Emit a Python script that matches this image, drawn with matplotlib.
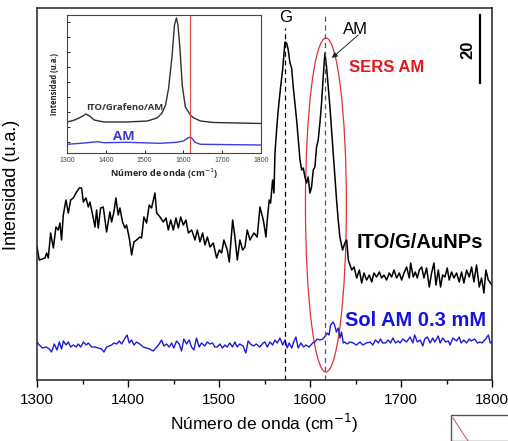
import matplotlib as mpl
mpl.use('Agg')
import matplotlib.pyplot as plt
from matplotlib.patches import Ellipse, Rectangle
from matplotlib.lines import Line2D
from matplotlib.ticker import MultipleLocator
import numpy as np

mpl.rcParams['font.family'] = ['Liberation Sans', 'DejaVu Sans']

# ITO/G/AuNPs (SERS)
wn_sers = [1300, 1302.5, 1308.8, 1310.6, 1312.4, 1315, 1318, 1320.8, 1323.4, 1325.2,
           1327, 1328.9, 1331.8, 1334.4, 1337, 1339.9, 1343.5, 1346.5, 1349, 1350.9,
           1353.8, 1356.4, 1358.2, 1361.8, 1363.7, 1365.5, 1367.3, 1369.9, 1372.8, 1376.5,
           1380.1, 1382, 1384.5, 1386.7, 1389.3, 1391.1, 1394, 1396.6, 1398.4, 1401.4,
           1404, 1406.5, 1409.4, 1413, 1414.9, 1417.5, 1420.4, 1423.3, 1425.9, 1429.6,
           1431.5, 1435.2, 1438.8, 1441.8, 1444.3, 1446.9, 1449.8, 1452.7, 1455.3, 1457.9,
           1460.8, 1463.7, 1466.3, 1470, 1473.6, 1476.2, 1479.1, 1482, 1484.6, 1487.2,
           1490.1, 1493.7, 1497.4, 1500.3, 1502.9, 1505.4, 1509.1, 1511.3, 1515, 1517.5,
           1520.1, 1523, 1526, 1528.5, 1531, 1534, 1535.8, 1538.4, 1542, 1545,
           1548.7, 1551.6, 1553, 1555.2, 1556.7, 1558.9, 1560.4, 1561.5, 1563.3, 1565.1,
           1567.7, 1569.9, 1572.5, 1574.3, 1576.1, 1578, 1579.8, 1581.6, 1583.4, 1585.3,
           1587.1, 1589, 1590.8, 1592.6, 1594.4, 1596.2, 1598, 1599.9, 1601.7, 1603.6,
           1605.4, 1607.2, 1609, 1610.9, 1612.7, 1614.5, 1616.4, 1618.2, 1620, 1621.9,
           1623.7, 1625.5, 1627.4, 1629.2, 1631, 1632.8, 1635.8, 1638.3, 1640.3, 1642.1,
           1645.8, 1648.4, 1651.3, 1654.2, 1656.8, 1659.3, 1662.3, 1665.2, 1667.8, 1670.3,
           1673.2, 1676.2, 1678.7, 1681.3, 1684.2, 1687.1, 1689.7, 1692.3, 1695.2, 1698.1,
           1700.7, 1703.3, 1706.2, 1709.1, 1710.6, 1713.5, 1715.7, 1717.9, 1720.1, 1722.7,
           1725.2, 1728.1, 1731.1, 1733.6, 1736.2, 1738.4, 1741, 1743.5, 1745.7, 1748.3,
           1750.8, 1753, 1755.6, 1758.2, 1761.1, 1764, 1766.6, 1769.1, 1772.1, 1775,
           1777.6, 1780.1, 1783, 1786, 1788.5, 1791.1, 1793.3, 1795.9, 1800]
int_sers = [133, 120, 122, 127, 122, 147, 132, 153, 150, 157,
            140, 165, 180, 167, 180, 182, 188, 192, 192, 178,
            182, 173, 178, 162, 153, 170, 152, 172, 173, 148,
            168, 158, 168, 182, 165, 172, 158, 152, 155, 142,
            125, 138, 140, 143, 142, 163, 157, 175, 172, 187,
            167, 163, 158, 162, 150, 160, 150, 162, 152, 163,
            155, 160, 147, 150, 140, 150, 138, 147, 135, 143,
            133, 137, 122, 130, 127, 140, 130, 118, 160, 143,
            120, 140, 130, 133, 150, 140, 143, 147, 143, 173,
            160, 143, 160, 180, 177, 200, 187, 227, 250, 270,
            293, 310, 338, 337, 330, 317, 312, 293, 277, 260,
            240, 220, 210, 212, 203, 197, 203, 187, 193, 210,
            213, 233, 240, 257, 277, 303, 327, 313, 293, 273,
            250, 227, 203, 180, 160, 143, 130, 137, 140, 120,
            110, 113, 102, 110, 97, 107, 100, 105, 98, 107,
            103, 108, 102, 105, 100, 107, 103, 110, 102, 107,
            100, 107, 113, 102, 117, 103, 108, 102, 110, 113,
            102, 112, 93, 107, 117, 95, 110, 93, 105, 103,
            112, 100, 108, 102, 107, 98, 108, 97, 110, 103,
            113, 98, 115, 93, 102, 87, 110, 100, 95]

# Sol AM 0.3 mM
wn_sol = [1300, 1302.5, 1306, 1310, 1313.5, 1316, 1319, 1322, 1324.5, 1327,
          1329, 1332, 1334.4, 1337, 1340, 1343, 1345.4, 1348, 1351, 1354,
          1356.4, 1360, 1363.7, 1367.3, 1371, 1373.6, 1376.5, 1379.4, 1382, 1384.5,
          1387.5, 1390.4, 1393, 1395.5, 1399, 1401.4, 1404, 1406.5, 1409.4, 1413,
          1416.7, 1420.4, 1424, 1427.7, 1431.4, 1434.3, 1436.9, 1439.4, 1442.4, 1445.3,
          1447.9, 1450.4, 1453.3, 1456.3, 1458.8, 1461.4, 1464.3, 1467.3, 1469.8, 1472.4,
          1475.3, 1478.2, 1480.8, 1484.5, 1487, 1490, 1492.9, 1495.4, 1498, 1501,
          1503.8, 1506.4, 1509, 1511.9, 1514.8, 1517.4, 1520, 1522.9, 1526.5, 1529.5,
          1532, 1534.6, 1538, 1541, 1544.8, 1548.5, 1550.5, 1553, 1556, 1559,
          1561.5, 1564, 1567, 1570, 1572.5, 1575, 1577, 1580, 1582, 1584.5,
          1587, 1590, 1593, 1595.5, 1599, 1603, 1605, 1608, 1611, 1614,
          1616, 1619, 1621, 1622.6, 1625.5, 1627, 1629, 1631, 1633, 1634.7,
          1636.5, 1638, 1641, 1644, 1647.5, 1651, 1655, 1658, 1662, 1666,
          1669, 1672, 1675, 1677.5, 1680, 1683, 1686, 1688.5, 1691, 1694,
          1697, 1699, 1702, 1706, 1710, 1713, 1715, 1718, 1721, 1724,
          1726, 1729, 1732, 1735, 1737, 1741, 1743, 1746, 1749, 1752,
          1754, 1757, 1761, 1764, 1766, 1769, 1772, 1775, 1777, 1781,
          1784, 1787, 1789, 1793, 1796, 1798, 1800]
int_sol = [38, 35, 32, 33, 31, 28, 36, 30, 38, 31,
           39, 35, 38, 33, 35, 33, 36, 33, 38, 35,
           37, 33, 33, 32, 31, 28, 33, 34, 35, 37,
           36, 39, 36, 40, 45, 37, 40, 35, 38, 36,
           33, 32, 31, 29, 33, 36, 40, 34, 36, 33,
           37, 32, 39, 36, 29, 41, 36, 40, 33, 30,
           42, 33, 37, 34, 38, 36, 37, 33, 33, 36,
           32, 35, 33, 37, 33, 38, 33, 36, 34, 27,
           39, 36, 34, 36, 33, 37, 38, 33, 38, 35,
           40, 37, 42, 35, 40, 32, 37, 32, 38, 43,
           32, 37, 33, 35, 33, 37, 38, 41, 40, 41,
           43, 47, 45, 55, 58, 55, 48, 52, 42, 48,
           37, 38, 36, 38, 37, 35, 38, 35, 37, 38,
           35, 40, 37, 41, 37, 37, 40, 37, 42, 37,
           39, 37, 41, 38, 43, 37, 45, 38, 40, 34,
           41, 43, 37, 42, 38, 44, 37, 42, 38, 39,
           35, 42, 39, 43, 37, 40, 37, 41, 39, 41,
           37, 38, 37, 41, 45, 37, 38]

# inset: ITO/Grafeno/AM and AM
wn_graf = [1300, 1320, 1336, 1349, 1358, 1370, 1395, 1454, 1507, 1532,
           1545, 1554, 1562, 1571, 1577, 1582, 1586, 1591, 1597, 1605,
           1618, 1627, 1644, 1678, 1800]
int_graf = [31, 33, 36, 39, 37, 33, 31, 31, 32, 35,
            40, 48, 65, 98, 128, 135, 128, 105, 68, 46,
            38, 35, 32, 30.5, 29.5]
wn_am = [1300, 1336, 1379, 1395, 1454, 1540, 1583, 1600, 1613, 1618,
         1622, 1630, 1644, 1800]
int_am = [8.7, 9.7, 11.3, 10.3, 10.7, 9.7, 10.7, 12, 15.3, 16,
          14.7, 10.7, 8.7, 8]

g_band = 1573
am_band = 1616.5

fig = plt.figure(figsize=(5.08, 4.41), dpi=100)
ax = fig.add_axes([37 / 508, 1 - 379.5 / 441, 455 / 508, 371.5 / 441])

ax.plot(wn_sers, int_sers, color='black', lw=1.1)
ax.plot(wn_sol, int_sol, color='#1c1cd6', lw=1.0)

ax.plot([g_band, g_band], [0.5, 352], color='black', lw=0.9, ls=(0, (4, 3)))
ax.plot([am_band, am_band], [0.5, 367], color='#555555', lw=0.9, ls=(0, (4, 3)))
ax.add_patch(Ellipse((1617.5, 175), 45, 334, fill=False, edgecolor='#e0303a', lw=0.9))

ax.text(g_band, 362, 'G', ha='center', va='center', fontsize=12)
ax.text(1650, 351, 'AM', ha='center', va='center', fontsize=12)
ax.annotate('', xy=(1624, 322), xytext=(1653, 345),
            arrowprops=dict(arrowstyle='-|>', color='#222222', lw=0.7,
                            mutation_scale=8, shrinkA=0, shrinkB=0))
ax.text(1684, 312, 'SERS AM', ha='center', va='center', fontsize=12,
        fontweight='bold', color='#e8141c')
ax.text(1774, 330, '20', ha='center', va='center', fontsize=12,
        fontweight='bold', rotation=90)
ax.plot([1787, 1787], [297, 365], color='black', lw=1.6)
ax.text(1721, 137, 'ITO/G/AuNPs', ha='center', va='center', fontsize=14.5,
        fontweight='bold')
ax.text(1716, 60, 'Sol AM 0.3 mM', ha='center', va='center', fontsize=14.5,
        fontweight='bold', color='#1414dc')

ax.set_xlim(1300, 1800)
ax.set_ylim(0.5, 372)
ax.set_xticks([1300, 1400, 1500, 1600, 1700, 1800])
ax.xaxis.set_minor_locator(MultipleLocator(50))
ax.set_yticks([])
ax.tick_params(axis='x', which='major', direction='out', length=5, width=1,
               labelsize=11, pad=5)
ax.tick_params(axis='x', which='minor', direction='out', length=3, width=1)
for s in ax.spines.values():
    s.set_linewidth(1.1)
    s.set_color('#222222')
ax.set_xlabel('Número de onda (cm$^{-1}$)', fontsize=12.5, labelpad=3)
fig.text(12 / 508, 1 - 185 / 441, 'Intensidad (u.a.)', rotation=90,
         ha='center', va='center', fontsize=13)

# inset
ins = fig.add_axes([67 / 508, 1 - 153 / 441, 194 / 508, 138 / 441])
ins.plot(wn_graf, int_graf, color='#303030', lw=1.0)
ins.plot(wn_am, int_am, color='#3c3ce0', lw=1.0)
ins.axvline(am_band, color='#e04848', lw=0.8)
ins.text(1450, 46, 'ITO/Grafeno/AM', ha='center', va='center', fontsize=6.8,
         fontweight='bold', color='#333333', family=['Open Sans', 'DejaVu Sans'])
ins.text(1446, 17, 'AM', ha='center', va='center', fontsize=9.5,
         fontweight='bold', color='#3c3cd0', family=['Open Sans', 'DejaVu Sans'])
ins.set_xlim(1300, 1800)
ins.set_ylim(0, 138)
ins.set_xticks([1300, 1400, 1500, 1600, 1700, 1800])
ins.set_yticks(np.arange(11, 138, 15))
ins.set_yticklabels([])
ins.tick_params(direction='in', length=2.5, width=0.6, labelsize=5,
                labelcolor='#444444', pad=3)
for s in ins.spines.values():
    s.set_linewidth(0.8)
    s.set_color('#444444')
ins.set_xlabel('Número de onda (cm$^{-1}$)', fontsize=6.5, fontweight='bold',
               labelpad=2, family=['Open Sans', 'DejaVu Sans'], color='#222222')
ins.set_ylabel('Intensidad (u.a.)', fontsize=5.5, fontweight='bold', labelpad=3,
               family=['Open Sans', 'DejaVu Sans'], color='#222222')

# fragment of the neighbouring panel in the bottom-right corner
fig.patches.append(Rectangle((451 / 508, 0), 60 / 508, 26 / 441, fill=False,
                             edgecolor='#555555', lw=1.0,
                             transform=fig.transFigure, figure=fig))
fig.lines.append(Line2D([453 / 508, 468 / 508], [23 / 441, 0], color='#d06070',
                        lw=0.8, transform=fig.transFigure, figure=fig))

fig.savefig('out.png', dpi=100)
